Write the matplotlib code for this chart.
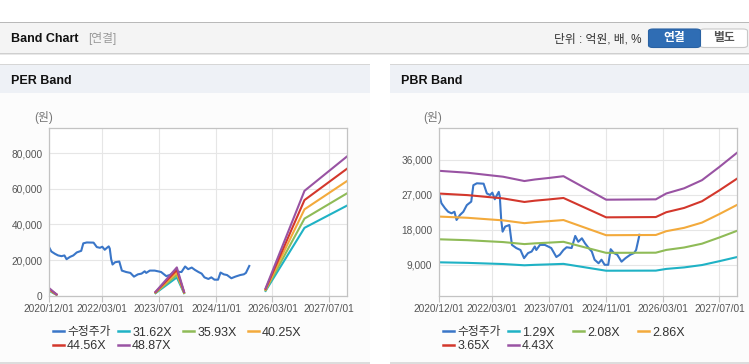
import numpy as np
import pandas as pd
import matplotlib
matplotlib.use("Agg")
import matplotlib.pyplot as plt
import matplotlib.dates as mdates
from matplotlib.patches import Rectangle, FancyBboxPatch
from matplotlib.lines import Line2D

plt.rcParams['font.family'] = ['Liberation Sans', 'Noto Sans CJK KR']

# adjusted close price (won)
price_dates = ['2020-12-01', '2020-12-19', '2021-01-19', '2021-02-15', '2021-03-16', '2021-04-10',
               '2021-04-28', '2021-05-28', '2021-06-25', '2021-07-25', '2021-09-01', '2021-09-19',
               '2021-10-19', '2021-12-16', '2022-01-13', '2022-02-09', '2022-03-01', '2022-03-22',
               '2022-04-10', '2022-04-25', '2022-05-04', '2022-05-16', '2022-05-28', '2022-06-19',
               '2022-07-25', '2022-08-16', '2022-09-22', '2022-10-28', '2022-11-28', '2023-01-01',
               '2023-02-01', '2023-02-28', '2023-03-13', '2023-04-13', '2023-05-25', '2023-06-22',
               '2023-07-19', '2023-09-01', '2023-10-01', '2023-11-01', '2023-11-28', '2024-01-10',
               '2024-02-10', '2024-03-07', '2024-04-07', '2024-05-04', '2024-06-04', '2024-07-01',
               '2024-07-25', '2024-08-28', '2024-09-22', '2024-10-19', '2024-11-19', '2024-12-10',
               '2025-01-07', '2025-02-04', '2025-03-13', '2025-04-16', '2025-05-28', '2025-06-28',
               '2025-07-16', '2025-08-14']
price = [27000, 24800, 23500, 22600, 22200, 22600, 20500, 21800, 22600, 24300, 25200, 29400,
         29900, 29800, 27300, 26900, 27500, 25800, 26900, 27700, 26500, 20500, 17500, 18800,
         19200, 14100, 13300, 12800, 10700, 12000, 12400, 13700, 12800, 14100, 14100, 13700,
         13300, 11000, 11600, 12800, 13500, 13300, 16400, 14900, 15800, 14500, 13300, 12400,
         10300, 9400, 10300, 9000, 9000, 13000, 12000, 11600, 9800, 10700, 11600, 12000,
         12800, 16700]

# EPS (won), gaps where negative
eps_dates = ['2020-12-01', '2021-01-01', '2021-02-01', '2021-03-01', '2023-05-01', '2023-06-01',
             '2023-09-01', '2023-12-01', '2024-02-01', '2024-03-01', '2025-12-01', '2026-01-01',
             '2026-12-01', '2027-12-01']
eps = [86, 50, 16, np.nan, np.nan, 45, 185, 325, 45, np.nan, np.nan, 85, 1205, 1600]
per_mult = [31.62, 35.93, 40.25, 44.56, 48.87]

# BPS (won)
bps_dates = ['2020-12-01', '2021-08-01', '2022-02-01', '2022-06-01', '2022-12-01', '2023-03-01',
             '2023-07-01', '2023-11-01', '2024-11-01', '2026-01-01', '2026-04-01', '2026-09-01',
             '2027-02-01', '2027-07-01', '2027-12-01']
bps = [7470, 7360, 7220, 7130, 6880, 6970, 7060, 7160, 5800, 5820, 6160, 6460, 6930, 7700, 8530]
pbr_mult = [1.29, 2.08, 2.86, 3.65, 4.43]

tick_dates = ['2020-12-01', '2022-03-01', '2023-07-01', '2024-11-01', '2026-03-01', '2027-07-01']
band_colors = ['#1fb2c5', '#8fbb57', '#f3aa3c', '#d3372c', '#9953a3']
price_color = '#3a76c8'

W, H = 749, 364
fig = plt.figure(figsize=(W / 100, H / 100), dpi=100)


def box(x0, y0, x1, y1, color, z=-5):
    fig.add_artist(Rectangle((x0 / W, 1 - y1 / H), (x1 - x0) / W, (y1 - y0) / H,
                             transform=fig.transFigure, facecolor=color, edgecolor='none', zorder=z))


# page header
box(0, 22, W, 23, '#b9b9b9')
box(0, 23, W, 53, '#f4f4f4')
box(0, 53, W, 54, '#cfcfcf')
box(0, 54, W, 55, '#e8e8e8')
fig.text(11 / W, 1 - 38.5 / H, 'Band Chart', fontsize=9, fontweight='bold', color='#111', va='center')
fig.text(88 / W, 1 - 38.5 / H, '[연결]', fontsize=8.5, color='#999', va='center')
fig.text(642 / W, 1 - 39 / H, '단위 : 억원, 배, %', fontsize=8.5, color='#333', va='center', ha='right')
fig.add_artist(FancyBboxPatch((700 / W, 1 - 47.5 / H), 47.5 / W, 18.5 / H, boxstyle='round,pad=0,rounding_size=0.006',
                              transform=fig.transFigure, facecolor='white', edgecolor='#c8c8c8', lw=0.8, zorder=-4))
fig.add_artist(FancyBboxPatch((648.5 / W, 1 - 47.5 / H), 52 / W, 18.5 / H, boxstyle='round,pad=0,rounding_size=0.006',
                              transform=fig.transFigure, facecolor='#2f6db4', edgecolor='#2a62a3', lw=0.8, zorder=-3))
fig.text(674 / W, 1 - 38.5 / H, '연결', fontsize=8.5, fontweight='bold', color='white', va='center', ha='center')
fig.text(724 / W, 1 - 38.5 / H, '별도', fontsize=8.5, fontweight='bold', color='#555', va='center', ha='center')

# panels
for px0, px1, title in [(0, 370, 'PER Band'), (390, W, 'PBR Band')]:
    box(px0, 64, px1, 65, '#d6d6d6')
    box(px0, 65, px1, 93, '#eef1f6')
    box(px0, 93, px1, 362, '#fcfcfc')
    box(px0, 362, px1, 363.5, '#dddddd')
    fig.text((px0 + 11) / W, 1 - 80.5 / H, title, fontsize=9, fontweight='bold', color='#111', va='center')

ax1 = fig.add_axes([49.3 / W, 1 - 295.7 / H, (347 - 49.3) / W, (295.7 - 128.3) / H])
ax2 = fig.add_axes([439.3 / W, 1 - 296 / H, (737.3 - 439.3) / W, (296 - 128.3) / H])

pd_price = pd.to_datetime(price_dates)
pd_eps = pd.to_datetime(eps_dates)
pd_bps = pd.to_datetime(bps_dates)

lw = 1.5
ax1.plot(pd_price, price, color=price_color, lw=lw)
for m, c in zip(per_mult, band_colors):
    ax1.plot(pd_eps, np.array(eps) * m, color=c, lw=lw)
ax2.plot(pd_price, price, color=price_color, lw=lw)
for m, c in zip(pbr_mult, band_colors):
    ax2.plot(pd_bps, np.array(bps) * m, color=c, lw=lw)

ax1.set_ylim(0, 94000)
ax1.set_yticks([0, 20000, 40000, 60000, 80000])
ax2.set_ylim(1000, 44000)
ax2.set_yticks([9000, 18000, 27000, 36000])

ticks = pd.to_datetime(tick_dates)
for ax, mults in [(ax1, per_mult), (ax2, pbr_mult)]:
    ax.set_facecolor('white')
    ax.set_xlim(pd.Timestamp('2020-12-01'), pd.Timestamp('2027-12-01'))
    ax.set_xticks(ticks)
    ax.xaxis.set_major_formatter(mdates.DateFormatter('%Y/%m/%d'))
    ax.yaxis.set_major_formatter(matplotlib.ticker.FuncFormatter(lambda v, p: f'{v:,.0f}'))
    ax.grid(True, color='#e6e6e6', lw=0.8)
    ax.set_axisbelow(True)
    for s in ax.spines.values():
        s.set_color('#c3c3c3')
        s.set_linewidth(0.9)
    ax.tick_params(axis='x', length=4, color='#c3c3c3', labelsize=7.3, labelcolor='#555', pad=2)
    ax.tick_params(axis='y', length=0, labelsize=7.3, labelcolor='#555', pad=5)

    # legend: fixed-width items, 4 per row
    labels = ['수정주가'] + [f'{m:.2f}X' for m in mults]
    colors = [price_color] + band_colors
    bb = ax.get_position()
    for j in range(4):
        idx = [i for i in range(len(labels)) if i % 4 == j]
        hs = [Line2D([], [], color=colors[i], lw=1.8) for i in idx]
        leg = ax.legend(hs, [labels[i] for i in idx], loc='upper left',
                        bbox_to_anchor=(bb.x0 + (3.5 + 65 * j) / W, 1 - 326.5 / H),
                        bbox_transform=fig.transFigure, frameon=False, fontsize=9,
                        handlelength=0.9, handletextpad=0.25,
                        labelspacing=0.12, borderpad=0, borderaxespad=0)
        for t in leg.get_texts():
            t.set_color('#333')
            if t.get_text() == '수정주가':
                t.set_fontsize(8.5)
        if j < 3:
            ax.add_artist(leg)

for x in (44, 433):
    fig.text(x / W, 1 - 117.5 / H, '(원)', fontsize=8.5, color='#777', va='center', ha='center')

fig.savefig('out.png', dpi=100)
